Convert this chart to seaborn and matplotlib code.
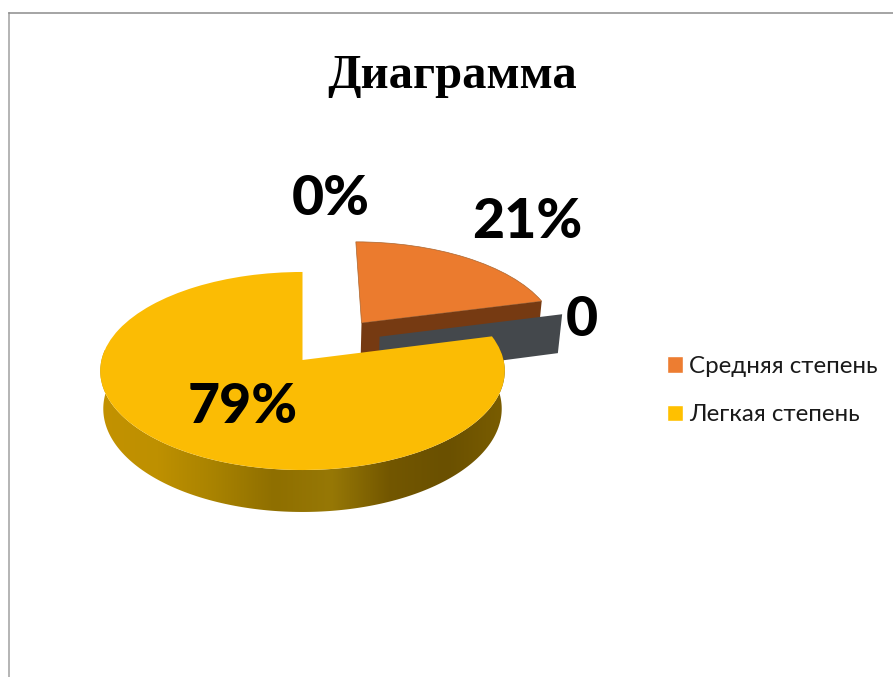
import numpy as np
import matplotlib
matplotlib.use("Agg")
import matplotlib.pyplot as plt
import seaborn as sns
from matplotlib.transforms import Transform
from matplotlib.colors import LinearSegmentedColormap
from matplotlib.patches import Patch, Polygon

# ---- data ----
categories = ["Средняя степень", "Тяжелая степень", "Легкая степень"]
values = [21, 0, 79]
percent_labels = ["21%", "0%", "79%"]
extra_label = "0"
legend_labels = ["Средняя степень", "Легкая степень"]
title_text = "Диаграмма"

# ---- style ----
ORANGE, GREY, YELLOW = "#EB7B2E", "#44484C", "#FBBC04"
BROWN = "#763A12"
side_stops = ["#C39200", "#BE9000", "#A88200", "#8F6F00", "#977806", "#735700", "#6A5000", "#7A5D00"]
W, H = 893, 677
CX, CY, RX, RY, K, DEPTH, TAPER = 302.5, 360.0, 201.0, 97.8, 0.111, 37.3, 0.015

sns.set_theme(style="white")
plt.rcParams["font.family"] = ["Lato", "Open Sans", "DejaVu Sans"]


def project(x, y, z=0.0):
    x, y = np.asarray(x, float), np.asarray(y, float)
    w = 1 + K * y
    return (CX + RX * x / w * (1 - TAPER * z), CY - RY * y / w + DEPTH * z / w)


class Perspective(Transform):
    input_dims = output_dims = 2
    is_separable = False
    has_inverse = False

    def transform_non_affine(self, values):
        a, b = project(values[:, 0], values[:, 1])
        return np.column_stack([a, b])


fig = plt.figure(figsize=(W / 100, H / 100), dpi=100)
ax = fig.add_axes([9 / W, 0, (W - 9) / W, 1 - 13 / H])
wedges, _ = ax.pie(values, explode=[0.5, 0, 0], startangle=90, counterclock=False,
                   colors=[ORANGE, GREY, YELLOW], radius=1, frame=True)
ax.set_aspect("auto")
ax.set_xlim(9, W)
ax.set_ylim(H, 13)
ax.set_xticks([])
ax.set_yticks([])
sns.despine(ax=ax, top=False, left=False, right=True, bottom=True)
ax.spines["top"].set_color("#8C8C8C")
ax.spines["left"].set_color("#A0A0A0")
ax.spines["top"].set_linewidth(1.1)
ax.spines["left"].set_linewidth(1.1)

orange, grey, yellow = wedges
for wd in wedges:
    wd.set_transform(Perspective() + ax.transData)
    wd.set_zorder(5)
    wd.set_linewidth(0)
orange.set_zorder(3)
orange.set_edgecolor("#A9652F")
orange.set_linewidth(0.5)
yellow.set_zorder(7)
grey.set_visible(False)

# yellow outer side wall, filled with the horizontal shading
t = np.radians(np.linspace(yellow.theta1 + 60, yellow.theta2, 240))
tx, ty = project(np.cos(t), np.sin(t), 0)
bx, by = project(np.cos(t), np.sin(t), 1)
band = Polygon(np.column_stack([np.r_[tx, bx[::-1]], np.r_[ty, by[::-1]]]),
               closed=True, transform=ax.transData, facecolor="none", edgecolor="none")
ax.add_patch(band)
cmap = LinearSegmentedColormap.from_list("side", side_stops)
img = ax.imshow(np.linspace(0, 1, 256)[None, :], cmap=cmap, aspect="auto",
                extent=(100, 505, 520, 350), zorder=6)
img.set_clip_path(band)
ax.set_xlim(9, W)
ax.set_ylim(H, 13)

# orange cut wall (brown) along its lower radius
a = np.radians(orange.theta1)
ox0, oy0 = orange.center
ox1, oy1 = ox0 + np.cos(a), oy0 + np.sin(a)
p = [project(ox0, oy0, 0), project(ox1, oy1, 0), project(ox1, oy1, 1), project(ox0, oy0, 1)]
ax.add_patch(Polygon(np.array(p, float), closed=True, facecolor=BROWN, edgecolor="none", zorder=3.5))

# zero-width slice: only its cut wall is visible
g = np.radians(grey.theta1)
gx0, gy0 = 0.394, 0.245
gx1, gy1 = gx0 + np.cos(g), gy0 + np.sin(g)
p = [project(gx0, gy0, 0), project(gx1, gy1, 0), project(gx1, gy1, 1.1), project(gx0, gy0, 1.1)]
ax.add_patch(Polygon(np.array(p, float), closed=True, facecolor=GREY, edgecolor="none", zorder=4))

# labels
lab = dict(fontsize=40, fontweight=900, color="black", ha="center", va="center",
           family="Lato", zorder=10)
ax.text(527, 222, percent_labels[0], **lab)
ax.text(331, 199, percent_labels[1], **lab)
ax.text(243, 407, percent_labels[2], **lab)
ax.text(582, 320, extra_label, **lab)

ax.text(452, 76, title_text, fontsize=35, fontweight="bold", family="Liberation Serif",
        ha="center", va="center", color="black")

handles = [Patch(facecolor="#ED7D31"), Patch(facecolor="#FFC000")]
ax.legend(handles, legend_labels, loc="upper left", bbox_to_anchor=(667, 356),
          bbox_transform=ax.transData, frameon=False, borderpad=0, borderaxespad=0,
          fontsize=17.4, handlelength=0.65, handleheight=0.65, handletextpad=0.26,
          labelspacing=1.12, labelcolor="#1a1a1a")

fig.savefig("out.png", dpi=100)
